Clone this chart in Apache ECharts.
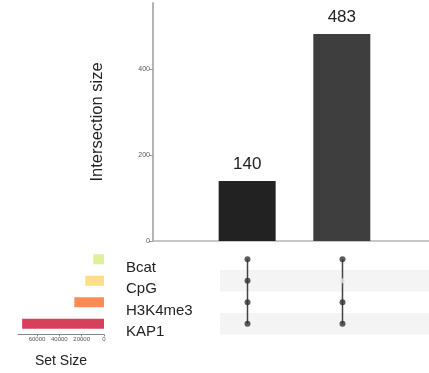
<!DOCTYPE html>
<html>
<head>
<meta charset="utf-8">
<script src="https://cdn.jsdelivr.net/npm/echarts@6/dist/echarts.min.js"></script>
<style>
  html, body { margin: 0; padding: 0; background: #fff; }
  #chart { width: 429px; height: 373px; }
</style>
</head>
<body>
<div id="chart"></div>
<script>
// Sets, top to bottom in the matrix
const sets = ['Bcat', 'CpG', 'H3K4me3', 'KAP1'];
const setSizes = [9600, 16800, 26600, 73300];
const setSizeTicks = [0, 20000, 40000, 60000];

// Intersections, left to right
const intersectionSizes = [140, 483];
// membership[i][s] = 1 when set s takes part in intersection i
const membership = [
  [1, 1, 1, 1],
  [1, 0, 1, 1]
];
const intersectionTicks = [0, 200, 400];

// Styling
const setColors = ['#dff09b', '#fddf88', '#fc8c55', '#d6405a'];
const barColors = ['#222222', '#3e3e3e'];
const FONT = 'Liberation Sans, Arial, sans-serif';

// Layout (pixels)
const colStep = 95;        // distance between intersection columns
const firstCol = 247.5;    // x of the first column
const mainLeft = 153, mainWidth = 277, mainTop = 3, mainHeight = 238;
const matLeft = 220, matWidth = 209, matTop = 248.5, rowH = 21.5;
const sizeLeft = 18, sizeWidth = 86;

function xRange(left, width) {
  const min = 1 - (firstCol - left) / colStep;
  return { min: min, max: min + width / colStep };
}
const mainX = xRange(mainLeft, mainWidth);
const matX = xRange(matLeft, matWidth);

const colIndex = intersectionSizes.map((_, i) => i + 1);

// Matrix dots and connecting lines
const dotsOn = [], dotsOff = [], lineSeries = [];
membership.forEach((row, i) => {
  const members = [];
  row.forEach((m, s) => {
    if (m) { dotsOn.push([colIndex[i], sets[s]]); members.push(s); }
    else dotsOff.push([colIndex[i], sets[s]]);
  });
  const lo = Math.min(...members), hi = Math.max(...members);
  lineSeries.push({
    type: 'line', xAxisIndex: 1, yAxisIndex: 1, silent: true,
    symbol: 'none', z: 2,
    lineStyle: { color: '#444', width: 1.5 },
    data: [[colIndex[i], sets[lo]], [colIndex[i], sets[hi]]]
  });
});

const chart = echarts.init(document.getElementById('chart'), null, { renderer: 'canvas' });

chart.setOption({
  animation: false,
  backgroundColor: '#ffffff',
  grid: [
    { left: mainLeft, top: mainTop, width: mainWidth, height: mainHeight },
    { left: matLeft, top: matTop, width: matWidth, height: rowH * sets.length },
    { left: sizeLeft, top: matTop, width: sizeWidth, height: rowH * sets.length }
  ],
  xAxis: [
    {
      gridIndex: 0, type: 'value', min: mainX.min, max: mainX.max,
      axisLine: { show: true, onZero: false, lineStyle: { color: '#b5b5b5', width: 1.5 } },
      axisTick: { show: false }, axisLabel: { show: false }, splitLine: { show: false }
    },
    {
      gridIndex: 1, type: 'value', min: matX.min, max: matX.max,
      axisLine: { show: false }, axisTick: { show: false },
      axisLabel: { show: false }, splitLine: { show: false }
    },
    {
      gridIndex: 2, type: 'value', inverse: true, min: 0, max: 77000, interval: 20000,
      axisLine: { show: true, lineStyle: { color: '#888', width: 1 } },
      axisTick: { show: true, length: 2, lineStyle: { color: '#888' } },
      axisLabel: {
        fontSize: 6, color: '#555', fontFamily: FONT, margin: 2,
        showMaxLabel: false,
        formatter: v => (setSizeTicks.indexOf(v) >= 0 ? String(v) : '')
      },
      splitLine: { show: false },
      name: 'Set Size', nameLocation: 'middle', nameGap: 20,
      nameTextStyle: { fontSize: 14, color: '#222', fontFamily: FONT }
    }
  ],
  yAxis: [
    {
      gridIndex: 0, type: 'value', min: 0, max: 555, interval: 200,
      axisLine: { show: true, lineStyle: { color: '#b5b5b5', width: 2 } },
      axisTick: { show: true, length: 4, lineStyle: { color: '#999' } },
      axisLabel: {
        fontSize: 7, color: '#555', fontFamily: FONT, margin: 3, showMaxLabel: false,
        formatter: v => (intersectionTicks.indexOf(v) >= 0 ? String(v) : '')
      },
      splitLine: { show: false },
      name: 'Intersection size', nameLocation: 'middle', nameGap: 47,
      nameRotate: 90,
      nameTextStyle: { fontSize: 16.5, color: '#222', fontFamily: FONT }
    },
    {
      gridIndex: 1, type: 'category', data: sets, inverse: true,
      axisLine: { show: false }, axisTick: { show: false }, axisLabel: { show: false },
      splitLine: { show: false },
      splitArea: { show: true, areaStyle: { color: ['rgba(255,255,255,0)', '#f4f4f4'] } }
    },
    {
      gridIndex: 2, type: 'category', data: sets, inverse: true, position: 'right',
      axisLine: { show: false }, axisTick: { show: false },
      axisLabel: {
        show: true, fontSize: 15, color: '#222', fontFamily: FONT,
        align: 'left', verticalAlign: 'top', margin: 22, padding: [1, 0, 0, 0]
      },
      splitLine: { show: false }
    }
  ],
  series: [
    {
      type: 'bar', xAxisIndex: 0, yAxisIndex: 0, barWidth: 57,
      data: intersectionSizes.map((v, i) => ({
        value: [colIndex[i], v],
        itemStyle: { color: barColors[i] }
      })),
      label: {
        show: true, position: 'top', distance: 8,
        fontSize: 17, color: '#222', fontFamily: FONT,
        formatter: p => String(p.value[1])
      }
    },
    {
      type: 'bar', xAxisIndex: 2, yAxisIndex: 2, barWidth: 10,
      data: setSizes.map((v, i) => ({ value: v, itemStyle: { color: setColors[i] } }))
    },
    ...lineSeries,
    {
      type: 'scatter', xAxisIndex: 1, yAxisIndex: 1, symbolSize: 5, z: 3,
      itemStyle: { color: '#e4e4e4' }, data: dotsOff
    },
    {
      type: 'scatter', xAxisIndex: 1, yAxisIndex: 1, symbolSize: 6, z: 4,
      itemStyle: { color: '#333' }, data: dotsOn
    }
  ]
});
</script>
</body>
</html>
